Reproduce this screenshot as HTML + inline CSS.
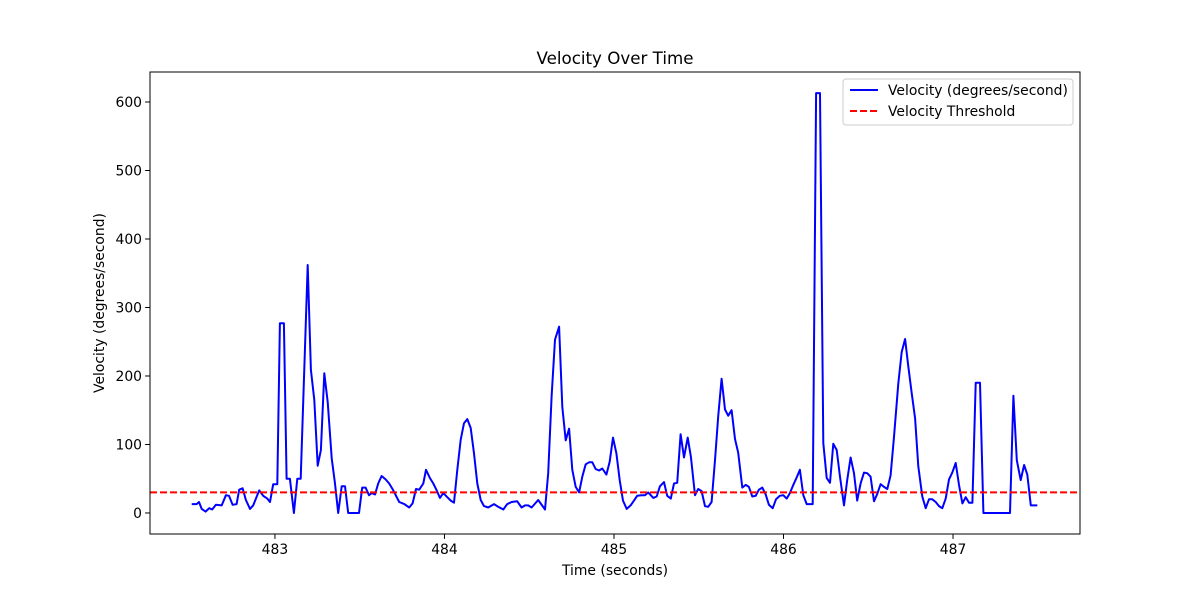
<!DOCTYPE html>
<html><head><meta charset="utf-8"><style>body{margin:0;background:#fff}svg{display:block;font-family:"DejaVu Sans","Liberation Sans",sans-serif}</style></head>
<body>
<svg id="chart" width="1200" height="600" xmlns="http://www.w3.org/2000/svg">
<rect x="0" y="0" width="1200" height="600" fill="#fff"/>
<text x="615" y="64" text-anchor="middle" font-size="16.7">Velocity Over Time</text>
<g id="plot"></g>
<rect x="150" y="72" width="930" height="462" fill="none" stroke="#000" stroke-width="1"/>
<text x="615" y="575" text-anchor="middle" font-size="13.9">Time (seconds)</text>
<text transform="translate(104,303) rotate(-90)" text-anchor="middle" font-size="13.9">Velocity (degrees/second)</text>
<g>
<rect x="843" y="79" width="230" height="46" rx="3" fill="#fff" fill-opacity="0.8" stroke="#ccc"/>
<line x1="850" y1="90" x2="878" y2="90" stroke="blue" stroke-width="2"/>
<text x="888" y="95" font-size="13.9">Velocity (degrees/second)</text>
<line x1="850" y1="111" x2="878" y2="111" stroke="red" stroke-width="2" stroke-dasharray="7,3"/>
<text x="888" y="116" font-size="13.9">Velocity Threshold</text>
</g>
</svg>
<script>
const times=[482.509,482.538,482.552,482.568,482.591,482.612,482.630,482.652,482.686,482.711,482.729,482.750,482.774,482.789,482.809,482.829,482.853,482.872,482.907,482.931,482.955,482.971,482.990,483.014,483.029,483.053,483.069,483.088,483.112,483.132,483.152,483.193,483.212,483.232,483.252,483.271,483.291,483.311,483.335,483.354,483.373,483.394,483.413,483.432,483.496,483.515,483.535,483.555,483.571,483.590,483.609,483.629,483.653,483.674,483.698,483.733,483.763,483.792,483.812,483.832,483.851,483.875,483.891,483.914,483.934,483.954,483.973,483.993,484.017,484.037,484.056,484.076,484.096,484.115,484.135,484.155,484.174,484.194,484.214,484.233,484.258,484.292,484.317,484.347,484.370,484.396,484.429,484.455,484.475,484.494,484.514,484.553,484.593,484.612,484.632,484.652,484.676,484.695,484.715,484.735,484.754,484.774,484.794,484.813,484.833,484.853,484.872,484.892,484.912,484.931,484.955,484.975,484.994,485.014,485.034,485.053,485.075,485.098,485.118,485.137,485.163,485.183,485.202,485.232,485.252,485.271,485.295,485.314,485.335,485.354,485.373,485.393,485.413,485.435,485.454,485.478,485.497,485.517,485.537,485.556,485.576,485.596,485.615,485.635,485.655,485.674,485.694,485.714,485.733,485.757,485.777,485.796,485.816,485.836,485.855,485.875,485.895,485.914,485.936,485.956,485.979,485.999,486.019,486.038,486.058,486.078,486.097,486.117,486.137,486.172,486.192,486.215,486.235,486.255,486.274,486.294,486.314,486.333,486.357,486.376,486.396,486.416,486.435,486.455,486.475,486.494,486.514,486.534,486.553,486.573,486.593,486.612,486.632,486.652,486.677,486.697,486.717,486.736,486.756,486.776,486.795,486.819,486.839,486.858,486.878,486.898,486.917,486.937,486.957,486.976,486.996,487.016,487.035,487.055,487.075,487.094,487.114,487.134,487.159,487.179,487.336,487.356,487.376,487.399,487.419,487.438,487.459,487.497];
const velocity=[13,13,16,6,2,7,5,12,11,26,25,12,13,34,36,19,6,11,33,25,21,16,42,42,277,277,50,50,0,50,50,362,209,165,69,92,204,162,80,44,0,39,39,0,0,37,37,26,29,27,43,54,49,43,33,16,13,8,14,35,34,43,63,51,43,33,22,29,23,18,15,63,107,131,137,124,87,43,19,10,8,13,9,5,13,16,17,8,11,11,8,19,5,58,170,253,272,155,106,123,63,38,30,53,71,74,74,64,62,65,56,75,110,87,48,18,6,11,18,25,26,26,30,22,24,39,45,25,21,43,44,115,81,110,82,26,35,32,10,9,16,77,141,196,151,142,150,108,88,37,41,38,24,25,34,37,27,12,7,20,25,26,21,29,41,52,63,26,13,13,613,613,102,51,44,101,92,53,11,48,81,58,18,43,59,58,53,17,28,42,38,35,55,111,189,235,254,214,175,138,68,24,7,20,20,16,10,7,21,49,59,73,41,14,23,15,15,190,190,0,0,171,77,48,70,56,11,11];
const xTicks=[483,484,485,486,487];
const yTicks=[0,100,200,300,400,500,600];
const threshold=[30];
const X0=482.263,X1=487.749,Y0=-30.7,Y1=643.8;
const L=150,R=1080,T=72,B=534;
const xs=t=>L+(t-X0)/(X1-X0)*(R-L);
const ys=v=>B-(v-Y0)/(Y1-Y0)*(B-T);
const NS='http://www.w3.org/2000/svg';
const g=document.getElementById('plot');
function mk(tag,attrs){const e=document.createElementNS(NS,tag);for(const k in attrs)e.setAttribute(k,attrs[k]);return e;}
xTicks.forEach(t=>{
 const l=mk('line',{x1:xs(t),x2:xs(t),y1:B,y2:B+4.9,stroke:'#000'});
 
 
 g.appendChild(l);
 const tx=mk('text',{x:xs(t),y:B+20,'text-anchor':'middle','font-size':'13.9'});
 
 
 tx.textContent=t;g.appendChild(tx);
});
yTicks.forEach(v=>{
 const l=mk('line',{x1:L-4.9,x2:L,y1:ys(v),y2:ys(v),stroke:'#000'});
 
 
 g.appendChild(l);
 const tx=mk('text',{x:L-8,y:ys(v)+5,'text-anchor':'end','font-size':'13.9'});
 
 
 tx.textContent=v;g.appendChild(tx);
});
const p=mk('polyline',{points:times.map((t,i)=>xs(t).toFixed(1)+','+ys(velocity[i]).toFixed(1)).join(' '),fill:'none',stroke:'blue','stroke-width':'2','stroke-linejoin':'round'});


g.appendChild(p);
const th=mk('line',{x1:L,x2:R,y1:ys(threshold[0]),y2:ys(threshold[0]),stroke:'red','stroke-width':'2','stroke-dasharray':'7,3'});


g.appendChild(th);
</script>
</body></html>
